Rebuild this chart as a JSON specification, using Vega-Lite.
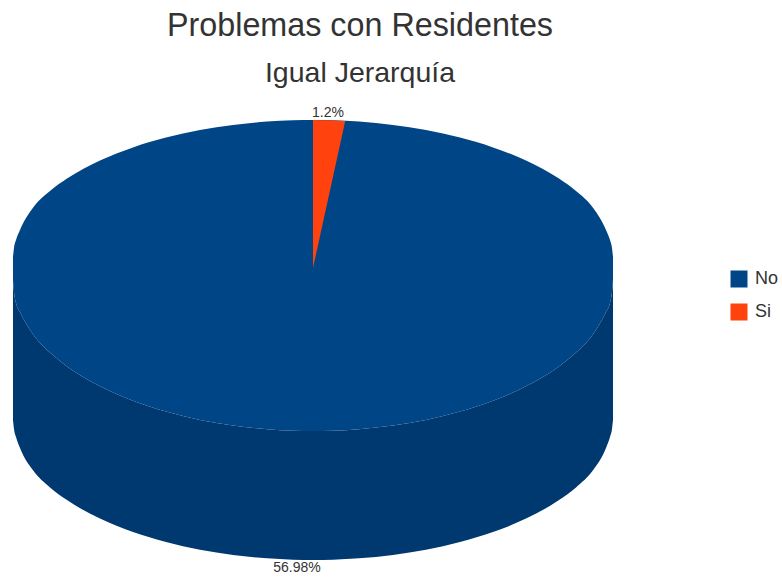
{
  "$schema": "https://vega.github.io/schema/vega-lite/v6.json",
  "width": 782,
  "height": 485,
  "autosize": "none",
  "padding": {"left": 0, "right": 0, "top": 95, "bottom": 0},
  "background": "white",
  "view": {"stroke": null},
  "title": {
    "text": "Problemas con Residentes",
    "subtitle": "Igual Jerarquía",
    "anchor": "middle",
    "dx": -31,
    "offset": 8,
    "font": "Liberation Sans",
    "fontWeight": "normal",
    "fontSize": 32.3,
    "color": "#333333",
    "subtitleFont": "Liberation Sans",
    "subtitleFontSize": 28.5,
    "subtitleColor": "#333333",
    "subtitlePadding": 16
  },
  "datasets": {
    "rim": [
      {"x": 13, "top": 257, "front": 280, "base": 420, "answer": "No"},
      {"x": 14, "top": 248, "front": 292, "base": 429, "answer": "No"},
      {"x": 16, "top": 240, "front": 303, "base": 437, "answer": "No"},
      {"x": 20, "top": 230, "front": 312, "base": 448, "answer": "No"},
      {"x": 33, "top": 207.8, "front": 334.2, "base": 470.3, "answer": "No"},
      {"x": 50, "top": 191.1, "front": 352.6, "base": 487.4, "answer": "No"},
      {"x": 67, "top": 178.6, "front": 366.4, "base": 500.1, "answer": "No"},
      {"x": 100, "top": 160.5, "front": 386.3, "base": 518.6, "answer": "No"},
      {"x": 133, "top": 147.4, "front": 400.8, "base": 532, "answer": "No"},
      {"x": 166, "top": 137.6, "front": 411.6, "base": 542, "answer": "No"},
      {"x": 200, "top": 130.1, "front": 419.9, "base": 549.7, "answer": "No"},
      {"x": 233, "top": 125, "front": 425.5, "base": 554.9, "answer": "No"},
      {"x": 267, "top": 121.6, "front": 429.2, "base": 558.3, "answer": "No"},
      {"x": 293, "top": 120.3, "front": 430.7, "base": 559.7, "answer": "No"},
      {"x": 313, "top": 120, "front": 431, "base": 560, "answer": "No"},
      {"x": 333, "top": 120.3, "front": 430.7, "base": 559.7, "answer": "No"},
      {"x": 359, "top": 121.6, "front": 429.2, "base": 558.3, "answer": "No"},
      {"x": 393, "top": 125, "front": 425.5, "base": 554.9, "answer": "No"},
      {"x": 426, "top": 130.1, "front": 419.9, "base": 549.7, "answer": "No"},
      {"x": 460, "top": 137.6, "front": 411.6, "base": 542, "answer": "No"},
      {"x": 493, "top": 147.4, "front": 400.8, "base": 532, "answer": "No"},
      {"x": 526, "top": 160.5, "front": 386.3, "base": 518.6, "answer": "No"},
      {"x": 559, "top": 178.6, "front": 366.4, "base": 500.1, "answer": "No"},
      {"x": 576, "top": 191.1, "front": 352.6, "base": 487.4, "answer": "No"},
      {"x": 593, "top": 207.8, "front": 334.2, "base": 470.3, "answer": "No"},
      {"x": 606, "top": 230, "front": 312, "base": 448, "answer": "No"},
      {"x": 610, "top": 240, "front": 303, "base": 437, "answer": "No"},
      {"x": 612, "top": 248, "front": 292, "base": 429, "answer": "No"},
      {"x": 613, "top": 257, "front": 280, "base": 420, "answer": "No"}
    ],
    "slice": [
      {"x": 313, "top": 120, "front": 268, "answer": "Si"},
      {"x": 329, "top": 120.2, "front": 195, "answer": "Si"},
      {"x": 345, "top": 121, "front": 122, "answer": "Si"}
    ],
    "labels": [
      {"x": 328, "y": 113, "text": "1.2%"},
      {"x": 297, "y": 568, "text": "56.98%"}
    ]
  },
  "encoding": {
    "x": {"field": "x", "type": "quantitative", "axis": null, "scale": {"domain": [0, 782]}}
  },
  "layer": [
    {
      "data": {"name": "rim"},
      "mark": {"type": "area", "color": "#003870", "interpolate": "monotone"},
      "encoding": {
        "y": {"field": "front", "type": "quantitative", "axis": null, "stack": null, "scale": {"domain": [580, 95]}},
        "y2": {"field": "base"}
      }
    },
    {
      "data": {"name": "rim"},
      "mark": {"type": "area", "interpolate": "monotone"},
      "encoding": {
        "y": {"field": "top", "type": "quantitative", "axis": null, "stack": null, "scale": {"domain": [580, 95]}},
        "y2": {"field": "front"},
        "color": {
          "field": "answer",
          "type": "nominal",
          "scale": {"domain": ["No", "Si"], "range": ["#004586", "#ff420e"]},
          "legend": {
            "title": null,
            "orient": "none",
            "legendX": 730,
            "legendY": 175,
            "symbolType": "square",
            "symbolSize": 289,
            "symbolStrokeWidth": 0,
            "symbolOpacity": 1,
            "labelFont": "Liberation Sans",
            "labelFontSize": 18,
            "labelColor": "#333333",
            "labelOffset": 7,
            "rowPadding": 15
          }
        }
      }
    },
    {
      "data": {"name": "slice"},
      "mark": {"type": "area", "interpolate": "linear"},
      "encoding": {
        "y": {"field": "top", "type": "quantitative", "axis": null, "stack": null, "scale": {"domain": [580, 95]}},
        "y2": {"field": "front"},
        "color": {"field": "answer", "type": "nominal"}
      }
    },
    {
      "data": {"name": "labels"},
      "mark": {"type": "text", "font": "Liberation Sans", "fontSize": 14, "color": "#333333", "align": "center", "baseline": "middle"},
      "encoding": {
        "y": {"field": "y", "type": "quantitative", "axis": null, "scale": {"domain": [580, 95]}},
        "text": {"field": "text", "type": "nominal"}
      }
    }
  ]
}
